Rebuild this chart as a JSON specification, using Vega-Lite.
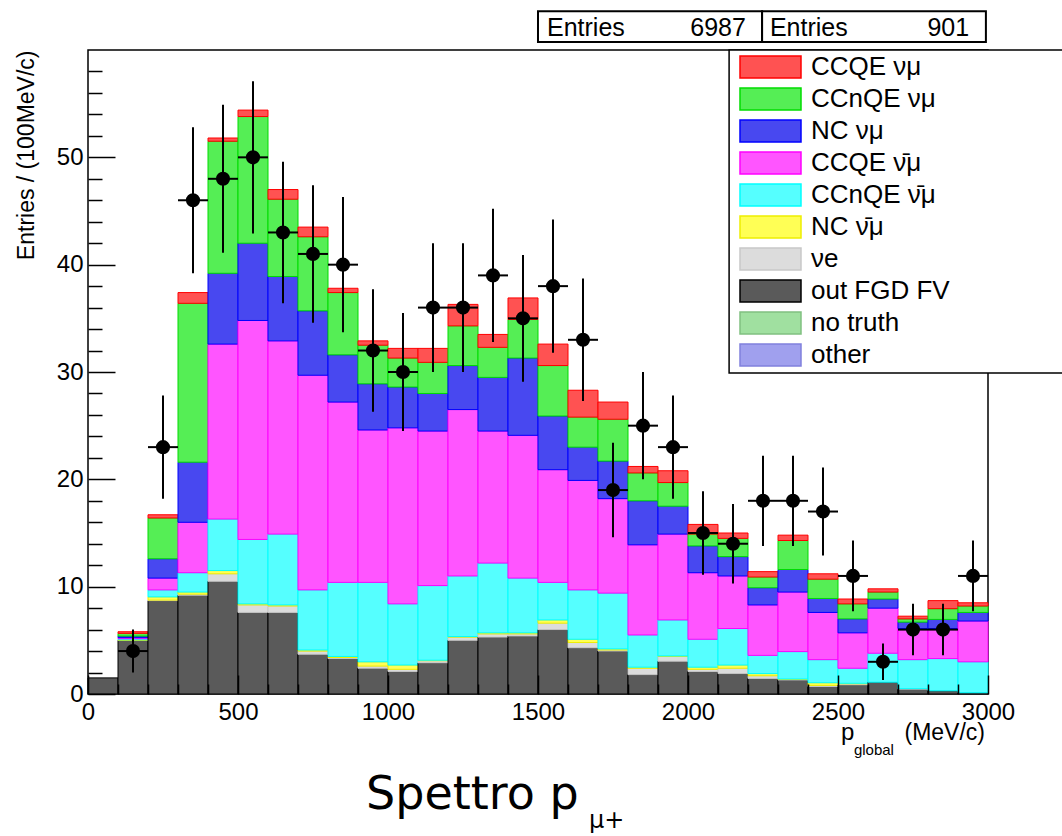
{
  "$schema": "https://vega.github.io/schema/vega-lite/v6.json",
  "width": 900,
  "height": 644,
  "autosize": {"type": "none"},
  "padding": {"left": 88, "top": 50, "right": 74, "bottom": 142},
  "background": "white",
  "config": {
    "view": {"stroke": "black", "strokeWidth": 1.5},
    "font": "Liberation Sans",
    "axis": {"labelFont": "Liberation Sans", "titleFont": "Liberation Sans", "labelColor": "black", "titleColor": "black", "tickColor": "black", "grid": false, "domain": false, "labelFlush": false, "labelOverlap": false},
    "legend": {"orient": "none", "legendX": 651, "legendY": 4, "padding": 0, "symbolType": "M-1,-0.36H1V0.36H-1Z", "symbolSize": 3721, "symbolStrokeWidth": 1.5, "symbolOpacity": 1, "labelFontSize": 26, "labelFont": "Liberation Sans", "labelColor": "black", "labelOffset": 9, "rowPadding": 6, "clipHeight": 26, "labelLimit": 400}
  },
  "datasets": {
    "comps": [
      {"key": "ccqe", "name": "CCQE \u03bd\u03bc", "k": 7},
      {"key": "ccnqe", "name": "CCnQE \u03bd\u03bc", "k": 6},
      {"key": "nc", "name": "NC \u03bd\u03bc", "k": 5},
      {"key": "ccqeb", "name": "CCQE \u03bd\u0304\u03bc", "k": 4},
      {"key": "ccnqeb", "name": "CCnQE \u03bd\u0304\u03bc", "k": 3},
      {"key": "ncb", "name": "NC \u03bd\u0304\u03bc", "k": 2},
      {"key": "nue", "name": "\u03bde", "k": 1},
      {"key": "out", "name": "out FGD FV", "k": 0}
    ],
    "mc": [
      {"lo": 0, "hi": 100, "out": 1.5, "nue": 0, "ncb": 0, "ccnqeb": 0, "ccqeb": 0, "nc": 0, "ccnqe": 0, "ccqe": 0},
      {"lo": 100, "hi": 200, "out": 5.0, "nue": 0, "ncb": 0.05, "ccnqeb": 0.1, "ccqeb": 0.1, "nc": 0.15, "ccnqe": 0.25, "ccqe": 0.15},
      {"lo": 200, "hi": 300, "out": 8.7, "nue": 0.05, "ncb": 0.3, "ccnqeb": 0.65, "ccqeb": 1.1, "nc": 1.8, "ccnqe": 3.8, "ccqe": 0.3},
      {"lo": 300, "hi": 400, "out": 9.2, "nue": 0.1, "ncb": 0.2, "ccnqeb": 1.8, "ccqeb": 4.7, "nc": 5.6, "ccnqe": 14.8, "ccqe": 1.0},
      {"lo": 400, "hi": 500, "out": 10.5, "nue": 0.7, "ncb": 0.3, "ccnqeb": 4.8, "ccqeb": 16.3, "nc": 6.6, "ccnqe": 12.3, "ccqe": 0.3},
      {"lo": 500, "hi": 600, "out": 7.6, "nue": 0.7, "ncb": 0.1, "ccnqeb": 6.0, "ccqeb": 20.4, "nc": 7.2, "ccnqe": 11.8, "ccqe": 0.6},
      {"lo": 600, "hi": 700, "out": 7.6, "nue": 0.6, "ncb": 0.1, "ccnqeb": 6.6, "ccqeb": 18.0, "nc": 6.0, "ccnqe": 7.2, "ccqe": 0.9},
      {"lo": 700, "hi": 800, "out": 3.7, "nue": 0.3, "ncb": 0.1, "ccnqeb": 5.6, "ccqeb": 20.0, "nc": 6.0, "ccnqe": 6.9, "ccqe": 0.9},
      {"lo": 800, "hi": 900, "out": 3.3, "nue": 0.1, "ncb": 0.1, "ccnqeb": 6.9, "ccqeb": 16.8, "nc": 4.4, "ccnqe": 5.8, "ccqe": 0.4},
      {"lo": 900, "hi": 1000, "out": 2.4, "nue": 0.2, "ncb": 0.4, "ccnqeb": 7.4, "ccqeb": 14.2, "nc": 4.3, "ccnqe": 3.6, "ccqe": 0.4},
      {"lo": 1000, "hi": 1100, "out": 2.1, "nue": 0.2, "ncb": 0.4, "ccnqeb": 5.7, "ccqeb": 16.4, "nc": 3.8, "ccnqe": 2.7, "ccqe": 0.9},
      {"lo": 1100, "hi": 1200, "out": 2.9, "nue": 0.2, "ncb": 0.05, "ccnqeb": 6.95, "ccqeb": 14.4, "nc": 3.5, "ccnqe": 2.9, "ccqe": 1.3},
      {"lo": 1200, "hi": 1300, "out": 5.0, "nue": 0.3, "ncb": 0.05, "ccnqeb": 5.65, "ccqeb": 15.5, "nc": 4.1, "ccnqe": 3.7, "ccqe": 2.0},
      {"lo": 1300, "hi": 1400, "out": 5.3, "nue": 0.3, "ncb": 0.1, "ccnqeb": 6.5, "ccqeb": 12.3, "nc": 5.0, "ccnqe": 2.8, "ccqe": 1.2},
      {"lo": 1400, "hi": 1500, "out": 5.4, "nue": 0.2, "ncb": 0.1, "ccnqeb": 5.1, "ccqeb": 13.3, "nc": 7.2, "ccnqe": 3.6, "ccqe": 2.0},
      {"lo": 1500, "hi": 1600, "out": 6.0, "nue": 0.6, "ncb": 0.3, "ccnqeb": 3.5, "ccqeb": 10.5, "nc": 5.0, "ccnqe": 4.7, "ccqe": 2.0},
      {"lo": 1600, "hi": 1700, "out": 4.3, "nue": 0.5, "ncb": 0.3, "ccnqeb": 4.6, "ccqeb": 10.2, "nc": 3.1, "ccnqe": 2.8, "ccqe": 2.5},
      {"lo": 1700, "hi": 1800, "out": 4.0, "nue": 0.1, "ncb": 0.1, "ccnqeb": 5.2, "ccqeb": 8.8, "nc": 3.5, "ccnqe": 3.9, "ccqe": 1.6},
      {"lo": 1800, "hi": 1900, "out": 1.8, "nue": 0.6, "ncb": 0.1, "ccnqeb": 3.0, "ccqeb": 8.4, "nc": 4.1, "ccnqe": 2.6, "ccqe": 0.6},
      {"lo": 1900, "hi": 2000, "out": 3.05, "nue": 0.45, "ncb": 0.05, "ccnqeb": 3.35, "ccqeb": 8.0, "nc": 2.6, "ccnqe": 2.2, "ccqe": 1.1},
      {"lo": 2000, "hi": 2100, "out": 2.1, "nue": 0.2, "ncb": 0.2, "ccnqeb": 2.6, "ccqeb": 6.2, "nc": 2.5, "ccnqe": 1.1, "ccqe": 0.9},
      {"lo": 2100, "hi": 2200, "out": 1.9, "nue": 0.5, "ncb": 0.3, "ccnqeb": 3.4, "ccqeb": 4.9, "nc": 1.8, "ccnqe": 1.7, "ccqe": 0.5},
      {"lo": 2200, "hi": 2300, "out": 1.45, "nue": 0.25, "ncb": 0.2, "ccnqeb": 1.7, "ccqeb": 4.7, "nc": 1.6, "ccnqe": 1.0, "ccqe": 0.5},
      {"lo": 2300, "hi": 2400, "out": 1.3, "nue": 0.05, "ncb": 0.05, "ccnqeb": 2.55, "ccqeb": 5.55, "nc": 2.1, "ccnqe": 2.7, "ccqe": 0.5},
      {"lo": 2400, "hi": 2500, "out": 0.7, "nue": 0.1, "ncb": 0.25, "ccnqeb": 2.15, "ccqeb": 4.4, "nc": 1.3, "ccnqe": 1.8, "ccqe": 0.5},
      {"lo": 2500, "hi": 2600, "out": 0.85, "nue": 0.1, "ncb": 0.05, "ccnqeb": 1.4, "ccqeb": 3.3, "nc": 1.3, "ccnqe": 1.4, "ccqe": 0.45},
      {"lo": 2600, "hi": 2700, "out": 1.1, "nue": 0, "ncb": 0, "ccnqeb": 2.7, "ccqeb": 4.2, "nc": 0.85, "ccnqe": 0.65, "ccqe": 0.3},
      {"lo": 2700, "hi": 2800, "out": 0.45, "nue": 0.05, "ncb": 0, "ccnqeb": 2.7, "ccqeb": 2.9, "nc": 0.6, "ccnqe": 0.3, "ccqe": 0.25},
      {"lo": 2800, "hi": 2900, "out": 0.3, "nue": 0, "ncb": 0, "ccnqeb": 3.0, "ccqeb": 2.8, "nc": 0.85, "ccnqe": 1.0, "ccqe": 0.75},
      {"lo": 2900, "hi": 3000, "out": 0.12, "nue": 0, "ncb": 0, "ccnqeb": 2.88, "ccqeb": 3.8, "nc": 0.8, "ccnqe": 0.6, "ccqe": 0.3}
    ],
    "obs": [
      {"c": 150, "bl": 100, "bh": 200, "n": 4, "el": 2.0, "eh": 6.0},
      {"c": 250, "bl": 200, "bh": 300, "n": 23, "el": 18.2, "eh": 27.8},
      {"c": 350, "bl": 300, "bh": 400, "n": 46, "el": 39.2, "eh": 52.8},
      {"c": 450, "bl": 400, "bh": 500, "n": 48, "el": 41.1, "eh": 54.9},
      {"c": 550, "bl": 500, "bh": 600, "n": 50, "el": 42.9, "eh": 57.1},
      {"c": 650, "bl": 600, "bh": 700, "n": 43, "el": 36.4, "eh": 49.6},
      {"c": 750, "bl": 700, "bh": 800, "n": 41, "el": 34.6, "eh": 47.4},
      {"c": 850, "bl": 800, "bh": 900, "n": 40, "el": 33.7, "eh": 46.3},
      {"c": 950, "bl": 900, "bh": 1000, "n": 32, "el": 26.3, "eh": 37.7},
      {"c": 1050, "bl": 1000, "bh": 1100, "n": 30, "el": 24.5, "eh": 35.5},
      {"c": 1150, "bl": 1100, "bh": 1200, "n": 36, "el": 30.0, "eh": 42.0},
      {"c": 1250, "bl": 1200, "bh": 1300, "n": 36, "el": 30.0, "eh": 42.0},
      {"c": 1350, "bl": 1300, "bh": 1400, "n": 39, "el": 32.8, "eh": 45.2},
      {"c": 1450, "bl": 1400, "bh": 1500, "n": 35, "el": 29.1, "eh": 40.9},
      {"c": 1550, "bl": 1500, "bh": 1600, "n": 38, "el": 31.8, "eh": 44.2},
      {"c": 1650, "bl": 1600, "bh": 1700, "n": 33, "el": 27.3, "eh": 38.7},
      {"c": 1750, "bl": 1700, "bh": 1800, "n": 19, "el": 14.6, "eh": 23.4},
      {"c": 1850, "bl": 1800, "bh": 1900, "n": 25, "el": 20.0, "eh": 30.0},
      {"c": 1950, "bl": 1900, "bh": 2000, "n": 23, "el": 18.2, "eh": 27.8},
      {"c": 2050, "bl": 2000, "bh": 2100, "n": 15, "el": 11.1, "eh": 18.9},
      {"c": 2150, "bl": 2100, "bh": 2200, "n": 14, "el": 10.3, "eh": 17.7},
      {"c": 2250, "bl": 2200, "bh": 2300, "n": 18, "el": 13.8, "eh": 22.2},
      {"c": 2350, "bl": 2300, "bh": 2400, "n": 18, "el": 13.8, "eh": 22.2},
      {"c": 2450, "bl": 2400, "bh": 2500, "n": 17, "el": 12.9, "eh": 21.1},
      {"c": 2550, "bl": 2500, "bh": 2600, "n": 11, "el": 7.7, "eh": 14.3},
      {"c": 2650, "bl": 2600, "bh": 2700, "n": 3, "el": 1.3, "eh": 4.7},
      {"c": 2750, "bl": 2700, "bh": 2800, "n": 6, "el": 3.6, "eh": 8.4},
      {"c": 2850, "bl": 2800, "bh": 2900, "n": 6, "el": 3.6, "eh": 8.4},
      {"c": 2950, "bl": 2900, "bh": 3000, "n": 11, "el": 7.7, "eh": 14.3}
    ]
  },
  "resolve": {"axis": {"x": "independent", "y": "independent"}},
  "layer": [
    {
      "data": {"name": "mc"},
      "transform": [
        {"fold": ["out", "nue", "ncb", "ccnqeb", "ccqeb", "nc", "ccnqe", "ccqe"], "as": ["key", "v"]},
        {"lookup": "key", "from": {"data": {"name": "comps"}, "key": "key", "fields": ["name", "k"]}},
        {"stack": "v", "groupby": ["lo"], "sort": [{"field": "k", "order": "ascending"}], "as": ["v0", "v1"]},
        {"filter": "datum.v > 0"}
      ],
      "mark": {"type": "rect", "strokeWidth": 1},
      "encoding": {
        "x": {"field": "lo", "type": "quantitative", "scale": {"domain": [0, 3000], "nice": false},
              "axis": {"orient": "bottom", "values": [0, 500, 1000, 1500, 2000, 2500, 3000], "format": "d", "ticks": false, "labelPadding": 6, "labelFontSize": 24, "title": null}},
        "x2": {"field": "hi"},
        "y": {"field": "v0", "type": "quantitative", "scale": {"domain": [0, 60], "nice": false},
              "axis": {"orient": "left", "values": [0, 10, 20, 30, 40, 50], "format": "d", "ticks": false, "labelPadding": 5, "labelFontSize": 24,
                       "title": "Entries / (100MeV/c)", "titleFontSize": 23, "titleFontWeight": "normal", "titleAngle": 270, "titleAlign": "right", "titleBaseline": "alphabetic", "titleX": -55, "titleY": 0}},
        "y2": {"field": "v1"},
        "color": {"field": "name", "type": "nominal",
                  "scale": {"domain": ["CCQE \u03bd\u03bc", "CCnQE \u03bd\u03bc", "NC \u03bd\u03bc", "CCQE \u03bd\u0304\u03bc", "CCnQE \u03bd\u0304\u03bc", "NC \u03bd\u0304\u03bc", "\u03bde", "out FGD FV", "no truth", "other"],
                            "range": ["#ff5252", "#55ee55", "#4848f0", "#ff55ff", "#55ffff", "#ffff55", "#dcdcdc", "#5a5a5a", "#a0e0a0", "#a0a0ee"]},
                  "legend": {"title": null}},
        "stroke": {"field": "name", "type": "nominal",
                   "scale": {"domain": ["CCQE \u03bd\u03bc", "CCnQE \u03bd\u03bc", "NC \u03bd\u03bc", "CCQE \u03bd\u0304\u03bc", "CCnQE \u03bd\u0304\u03bc", "NC \u03bd\u0304\u03bc", "\u03bde", "out FGD FV", "no truth", "other"],
                             "range": ["#ff0000", "#00dd00", "#0000ff", "#ff00ff", "#00ffff", "#eeee00", "#c8c8c8", "#000000", "#80c080", "#8080dd"]},
                   "legend": {"title": null}}
      }
    },
    {
      "data": {"name": "obs"},
      "mark": {"type": "rule", "color": "black", "strokeWidth": 2},
      "encoding": {
        "x": {"field": "c", "type": "quantitative", "scale": {"domain": [0, 3000], "nice": false}, "axis": null},
        "y": {"field": "el", "type": "quantitative", "scale": {"domain": [0, 60], "nice": false}, "axis": null},
        "y2": {"field": "eh"}
      }
    },
    {
      "data": {"name": "obs"},
      "mark": {"type": "rule", "color": "black", "strokeWidth": 2},
      "encoding": {
        "x": {"field": "bl", "type": "quantitative", "scale": {"domain": [0, 3000], "nice": false}, "axis": null},
        "x2": {"field": "bh"},
        "y": {"field": "n", "type": "quantitative", "scale": {"domain": [0, 60], "nice": false}, "axis": null}
      }
    },
    {
      "data": {"name": "obs"},
      "mark": {"type": "circle", "color": "black", "opacity": 1, "size": 200},
      "encoding": {
        "x": {"field": "c", "type": "quantitative", "scale": {"domain": [0, 3000], "nice": false}, "axis": null},
        "y": {"field": "n", "type": "quantitative", "scale": {"domain": [0, 60], "nice": false}, "axis": null}
      }
    },
    {
      "data": {"name": "obs"},
      "mark": {"type": "point", "opacity": 0},
      "encoding": {
        "x": {"field": "c", "type": "quantitative", "scale": {"domain": [0, 3000], "nice": false},
              "axis": {"orient": "bottom", "values": [0, 500, 1000, 1500, 2000, 2500, 3000], "tickSize": -19, "tickWidth": 1.5, "labels": false, "title": null, "zindex": 1}}
      }
    },
    {
      "data": {"name": "obs"},
      "mark": {"type": "point", "opacity": 0},
      "encoding": {
        "x": {"field": "c", "type": "quantitative", "scale": {"domain": [0, 3000], "nice": false},
              "axis": {"orient": "bottom", "values": [100, 200, 300, 400, 600, 700, 800, 900, 1100, 1200, 1300, 1400, 1600, 1700, 1800, 1900, 2100, 2200, 2300, 2400, 2600, 2700, 2800, 2900], "tickSize": -10, "tickWidth": 1.5, "labels": false, "title": null, "zindex": 1}}
      }
    },
    {
      "data": {"name": "obs"},
      "mark": {"type": "point", "opacity": 0},
      "encoding": {
        "y": {"field": "n", "type": "quantitative", "scale": {"domain": [0, 60], "nice": false},
              "axis": {"orient": "left", "values": [0, 10, 20, 30, 40, 50], "tickSize": -27, "tickWidth": 1.5, "labels": false, "title": null, "zindex": 1}}
      }
    },
    {
      "data": {"name": "obs"},
      "mark": {"type": "point", "opacity": 0},
      "encoding": {
        "y": {"field": "n", "type": "quantitative", "scale": {"domain": [0, 60], "nice": false},
              "axis": {"orient": "left", "values": [2, 4, 6, 8, 12, 14, 16, 18, 22, 24, 26, 28, 32, 34, 36, 38, 42, 44, 46, 48, 52, 54, 56, 58], "tickSize": -14, "tickWidth": 1.5, "labels": false, "title": null, "zindex": 1}}
      }
    },
    {
      "data": {"values": [{}]},
      "mark": {"type": "rect", "fill": "white", "stroke": "black", "strokeWidth": 1.5},
      "encoding": {
        "x": {"datum": 2137, "type": "quantitative", "axis": null},
        "x2": {"datum": 3400},
        "y": {"datum": 60, "type": "quantitative", "axis": null},
        "y2": {"datum": 29.9}
      }
    },
    {
      "data": {"values": [{}]},
      "mark": {"type": "rect", "fill": "white", "stroke": "black", "strokeWidth": 2},
      "encoding": {
        "x": {"datum": 1500, "type": "quantitative", "axis": null},
        "x2": {"datum": 2247},
        "y": {"datum": 63.6, "type": "quantitative", "axis": null},
        "y2": {"datum": 60.75}
      }
    },
    {
      "data": {"values": [{}]},
      "mark": {"type": "rect", "fill": "white", "stroke": "black", "strokeWidth": 2},
      "encoding": {
        "x": {"datum": 2247, "type": "quantitative", "axis": null},
        "x2": {"datum": 2993},
        "y": {"datum": 63.6, "type": "quantitative", "axis": null},
        "y2": {"datum": 60.75}
      }
    },
    {
      "data": {"values": [{}]},
      "mark": {"type": "text", "text": "Entries", "font": "Liberation Sans", "fontSize": 25, "align": "left", "baseline": "alphabetic", "color": "black"},
      "encoding": {"x": {"datum": 1530, "type": "quantitative", "axis": null}, "y": {"datum": 61.3, "type": "quantitative", "axis": null}}
    },
    {
      "data": {"values": [{}]},
      "mark": {"type": "text", "text": "6987", "font": "Liberation Sans", "fontSize": 25, "align": "right", "baseline": "alphabetic", "color": "black"},
      "encoding": {"x": {"datum": 2193, "type": "quantitative", "axis": null}, "y": {"datum": 61.3, "type": "quantitative", "axis": null}}
    },
    {
      "data": {"values": [{}]},
      "mark": {"type": "text", "text": "Entries", "font": "Liberation Sans", "fontSize": 25, "align": "left", "baseline": "alphabetic", "color": "black"},
      "encoding": {"x": {"datum": 2273, "type": "quantitative", "axis": null}, "y": {"datum": 61.3, "type": "quantitative", "axis": null}}
    },
    {
      "data": {"values": [{}]},
      "mark": {"type": "text", "text": "901", "font": "Liberation Sans", "fontSize": 25, "align": "right", "baseline": "alphabetic", "color": "black"},
      "encoding": {"x": {"datum": 2937, "type": "quantitative", "axis": null}, "y": {"datum": 61.3, "type": "quantitative", "axis": null}}
    },
    {
      "data": {"values": [{}]},
      "mark": {"type": "text", "text": "p", "font": "Liberation Sans", "fontSize": 24, "align": "left", "baseline": "alphabetic", "color": "black"},
      "encoding": {"x": {"datum": 2510, "type": "quantitative", "axis": null}, "y": {"datum": -4.3, "type": "quantitative", "axis": null}}
    },
    {
      "data": {"values": [{}]},
      "mark": {"type": "text", "text": "global", "font": "Liberation Sans", "fontSize": 15, "align": "left", "baseline": "alphabetic", "color": "black"},
      "encoding": {"x": {"datum": 2553, "type": "quantitative", "axis": null}, "y": {"datum": -5.65, "type": "quantitative", "axis": null}}
    },
    {
      "data": {"values": [{}]},
      "mark": {"type": "text", "text": "(MeV/c)", "font": "Liberation Sans", "fontSize": 23, "align": "right", "baseline": "alphabetic", "color": "black"},
      "encoding": {"x": {"datum": 2990, "type": "quantitative", "axis": null}, "y": {"datum": -4.3, "type": "quantitative", "axis": null}}
    },
    {
      "data": {"values": [{}]},
      "mark": {"type": "text", "text": "Spettro p", "font": "DejaVu Sans", "fontSize": 46, "align": "left", "baseline": "alphabetic", "color": "black"},
      "encoding": {"x": {"datum": 927, "type": "quantitative", "axis": null}, "y": {"datum": -10.7, "type": "quantitative", "axis": null}}
    },
    {
      "data": {"values": [{}]},
      "mark": {"type": "text", "text": "\u03bc+", "font": "DejaVu Sans", "fontSize": 24, "align": "left", "baseline": "alphabetic", "color": "black"},
      "encoding": {"x": {"datum": 1670, "type": "quantitative", "axis": null}, "y": {"datum": -12.5, "type": "quantitative", "axis": null}}
    }
  ]
}
